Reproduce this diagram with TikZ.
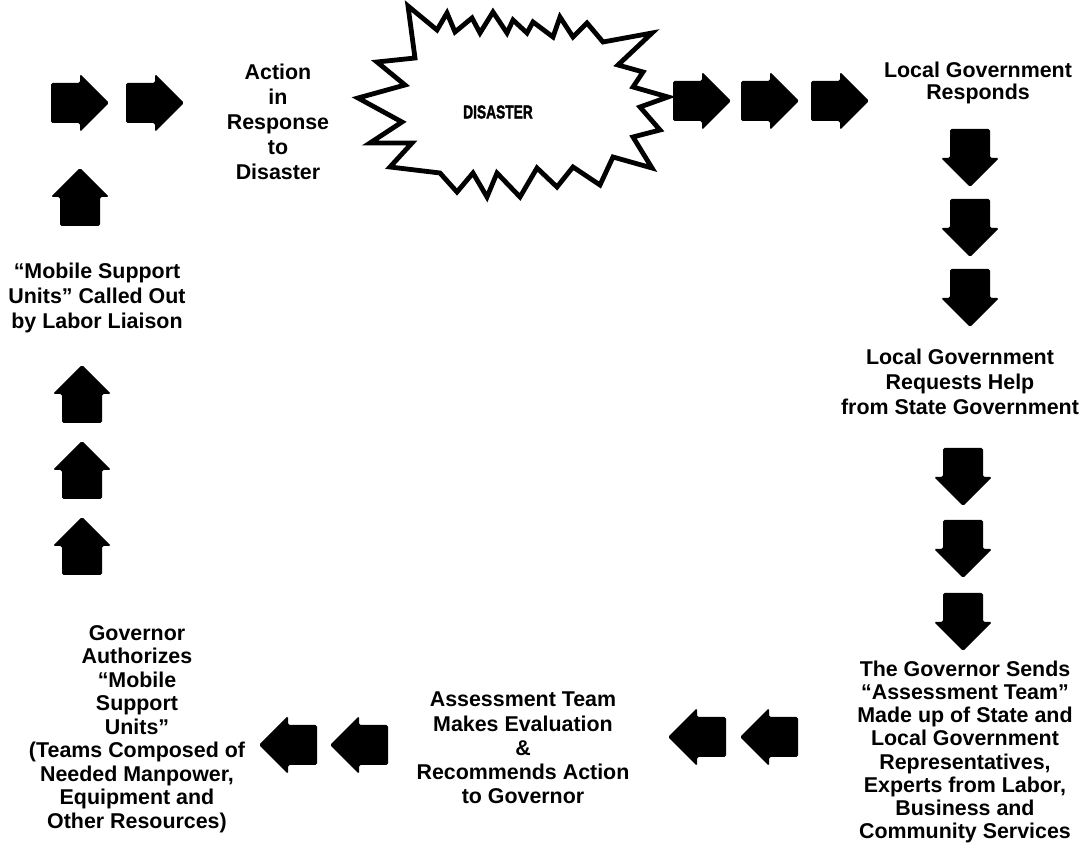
\documentclass[tikz,border=0pt]{standalone}
\usepackage{fontspec}
\setmainfont{Liberation Sans}
\newfontfamily\burstfont[FakeBold=2]{Liberation Sans}
\usepackage{graphicx}
\tikzset{
  bigarrow/.pic={
    \fill[rounded corners=0.8pt] (-14.5pt,-10pt) -- (0pt,-10pt) -- (0pt,-14.5pt) -- (14.5pt,0pt)
      -- (0pt,14.5pt) -- (0pt,10pt) -- (-14.5pt,10pt) -- cycle;
  },
  step text/.style={align=center, inner sep=0pt, font=\fontsize{10.7}{#1}\selectfont\bfseries}
}
\begin{document}
\begin{tikzpicture}[x=0.5pt,y=-0.5pt]
\useasboundingbox (0,0) rectangle (1084,861);
\draw[line width=2.4pt, line join=miter, fill=white] (408,6) -- (437,30) -- (447,13) -- (455,32) -- (472,18)
  -- (480,33) -- (493,12) -- (507,33) -- (513,20) -- (527,33) -- (533,22) -- (553,37) -- (560,17)
  -- (573,37) -- (587,23) -- (603,42) -- (652,33) -- (618,65) -- (643,72) -- (633,87) -- (668,97)
  -- (640,107) -- (660,130) -- (633,137) -- (652,168) -- (613,157) -- (600,185) -- (573,167)
  -- (557,187) -- (537,168) -- (520,197) -- (497,173) -- (487,197) -- (473,173) -- (457,192)
  -- (440,173) -- (390,167) -- (412,143) -- (370,143) -- (402,122) -- (358,98) -- (405,85)
  -- (377,62) -- (415,58) -- cycle;
\node (disaster) at (498,112) {\fontsize{9.3}{10}\burstfont\bfseries\scalebox{0.74}[1]{DISASTER}};
\node[step text=12.5pt] (action) at (278,122) {Action\\in\\Response\\to\\Disaster};
\node[step text=11pt] (responds) at (978,83) {Local Government\\Responds};
\node[step text=12.5pt] (requests) at (960,382) {Local Government\\Requests Help\\from State Government};
\node[step text=11.6pt] (sends) at (965,752) {The Governor Sends\\“Assessment Team”\\Made up of State and\\Local Government\\Representatives,\\Experts from Labor,\\Business and\\Community Services};
\node[step text=12.1pt] (evaluation) at (523,748) {Assessment Team\\Makes Evaluation\\\&\\Recommends Action\\to Governor};
\node[step text=11.75pt] (authorizes) at (137,729) {Governor\\Authorizes\\“Mobile\\Support\\Units”\\(Teams Composed of\\Needed Manpower,\\Equipment and\\Other Resources)};
\node[step text=12.5pt] (calledout) at (97,298) {“Mobile Support\\Units” Called Out\\by Labor Liaison};
% top row
\pic (top1) at (80,103) {bigarrow};
\pic (top2) at (155,103) {bigarrow};
\pic (top3) at (702,101) {bigarrow};
\pic (top4) at (770,101) {bigarrow};
\pic (top5) at (840,101) {bigarrow};
% right column
\pic[rotate=-90] (right1) at (970,158) {bigarrow};
\pic[rotate=-90] (right2) at (970,228) {bigarrow};
\pic[rotate=-90] (right3) at (970,298) {bigarrow};
\pic[rotate=-90] (right4) at (963,477) {bigarrow};
\pic[rotate=-90] (right5) at (963,549) {bigarrow};
\pic[rotate=-90] (right6) at (963,622) {bigarrow};
% bottom row
\pic[rotate=180] (bottom1) at (769,737) {bigarrow};
\pic[rotate=180] (bottom2) at (697,737) {bigarrow};
\pic[rotate=180] (bottom3) at (359,745) {bigarrow};
\pic[rotate=180] (bottom4) at (288,745) {bigarrow};
% left column
\pic[rotate=90] (left1) at (82,546) {bigarrow};
\pic[rotate=90] (left2) at (82,470) {bigarrow};
\pic[rotate=90] (left3) at (82,394) {bigarrow};
\pic[rotate=90] (left4) at (80,197) {bigarrow};
\end{tikzpicture}
\end{document}
